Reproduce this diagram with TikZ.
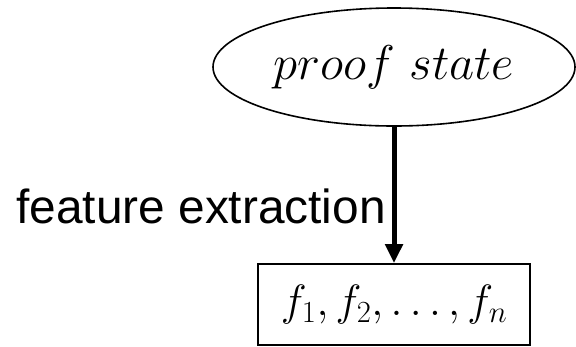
\documentclass[tikz,border=0pt]{standalone}
\usepackage{fix-cm}
\usepackage{fontspec}
\setsansfont{Liberation Sans}
\usetikzlibrary{positioning,arrows.meta,shapes.geometric}

\begin{document}
\begin{tikzpicture}[x=1bp, y=-1bp,
  statenode/.style={ellipse, draw, line width=1.6bp, minimum width=362bp, minimum height=118bp, inner sep=0pt, font=\fontsize{49}{58}\selectfont},
  featnode/.style={rectangle, draw, line width=1.6bp, minimum width=272bp, minimum height=81bp, inner sep=0pt, font=\fontsize{44}{53}\selectfont},
  extract/.style={line width=5bp, -{Triangle[length=19bp,width=17bp]}}]
  \useasboundingbox (0,0) rectangle (576,346);
  \node[statenode] (state) at (394,67) {$proof\ state$};
  \node[featnode] (feats) at (394,304.5) {$f_1, f_2, \dots, f_n$};
  \draw[extract] (state.south) -- (feats.north);
  \node[anchor=base east, inner sep=0pt, font=\sffamily\fontsize{48}{58}\selectfont] (lbl) at (386,223) {feature extraction};
\end{tikzpicture}
\end{document}
